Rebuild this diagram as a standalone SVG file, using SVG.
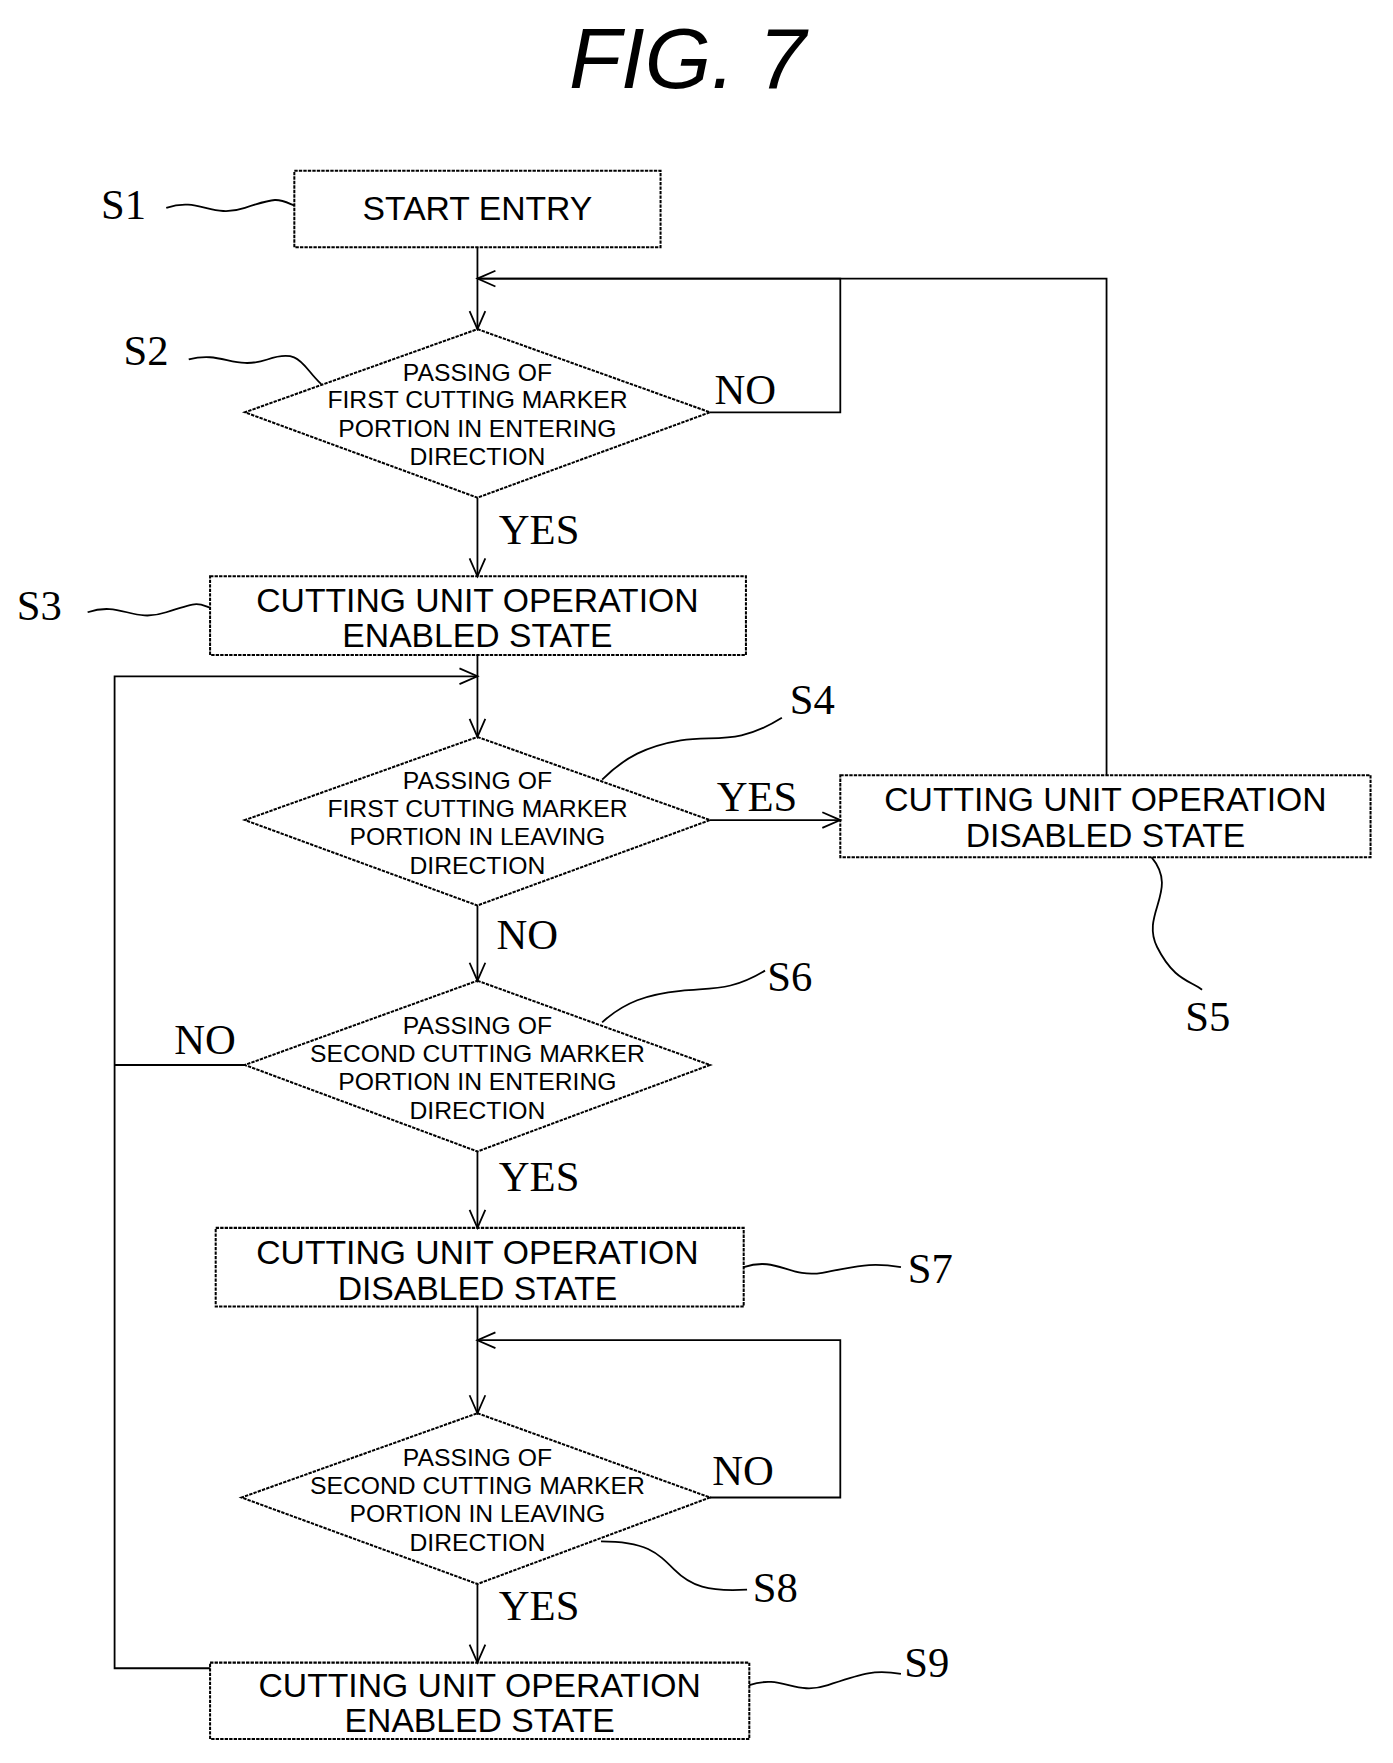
<svg xmlns="http://www.w3.org/2000/svg" width="1393" height="1763" viewBox="0 0 1393 1763">
<style>
.b{fill:none;stroke:#000;stroke-width:1.8;stroke-dasharray:3 1}
.l{fill:none;stroke:#000;stroke-width:1.6}
.t{font-family:"Liberation Sans",Arial,sans-serif;font-size:30px;text-anchor:middle}
.d{font-family:"Liberation Sans",Arial,sans-serif;font-size:22px;text-anchor:middle}
.s{font-family:"Liberation Serif","Times New Roman",serif;font-size:38px}
</style>
<defs><marker id="a" markerWidth="20" markerHeight="20" refX="18" refY="10" orient="auto" markerUnits="userSpaceOnUse"><path d="M2,3 L18,10 L2,17" fill="none" stroke="#000" stroke-width="1.6"/></marker></defs>
<rect width="1393" height="1763" fill="#fff"/>
<g transform="scale(1.1234)">
<text x="612" y="78" font-family="Liberation Sans,Arial,sans-serif" font-size="76" font-style="italic" text-anchor="middle">FIG. 7</text>
<g id="connectors">
<path class="l" d="M425,220 V293" marker-end="url(#a)"/>
<path class="l" d="M632,367 H748 V248 H425"/>
<path class="l" d="M985,690 V248 H748"/>
<path class="l" d="M748,248 H425" marker-end="url(#a)"/>
<path class="l" d="M425,443 V513" marker-end="url(#a)"/>
<path class="l" d="M425,583 V656" marker-end="url(#a)"/>
<path class="l" d="M187,1485 H102 V602 H425" marker-end="url(#a)"/>
<path class="l" d="M632,730 H748" marker-end="url(#a)"/>
<path class="l" d="M425,806 V873" marker-end="url(#a)"/>
<path class="l" d="M218,948 H102"/>
<path class="l" d="M425,1025 V1093" marker-end="url(#a)"/>
<path class="l" d="M425,1163 V1258" marker-end="url(#a)"/>
<path class="l" d="M632,1333 H748 V1193 H425" marker-end="url(#a)"/>
<path class="l" d="M425,1410 V1480" marker-end="url(#a)"/>
<text class="s" x="636" y="360">NO</text>
<text class="s" x="444" y="484">YES</text>
<text class="s" x="638" y="722">YES</text>
<text class="s" x="442" y="845">NO</text>
<text class="s" x="155" y="938">NO</text>
<text class="s" x="444" y="1060">YES</text>
<text class="s" x="634" y="1322">NO</text>
<text class="s" x="444" y="1442">YES</text>
</g>
<g id="S1"><rect class="b" x="262" y="152" width="326" height="68"/><text class="t" x="425" y="196">START ENTRY</text>
<text class="s" x="90" y="195">S1</text><path class="l" d="M148,185 c30,-10 40,10 70,0 s30,-8 44,-2"/></g>
<g id="S2"><polygon class="b" points="425,293 632,367 425,443 218,367"/>
<text class="d" x="425" y="339">PASSING OF</text><text class="d" x="425" y="363">FIRST CUTTING MARKER</text><text class="d" x="425" y="389">PORTION IN ENTERING</text><text class="d" x="425" y="414">DIRECTION</text>
<text class="s" x="110" y="325">S2</text><path class="l" d="M168,320 c30,-8 40,10 70,0 s30,5 48,22"/></g>
<g id="S3"><rect class="b" x="187" y="513" width="477" height="70"/><text class="t" x="425" y="545">CUTTING UNIT OPERATION</text><text class="t" x="425" y="576">ENABLED STATE</text>
<text class="s" x="15" y="552">S3</text><path class="l" d="M78,545 c30,-10 40,10 70,0 s28,-8 39,-4"/></g>
<g id="S4"><polygon class="b" points="425,656 632,730 425,806 218,730"/>
<text class="d" x="425" y="702">PASSING OF</text><text class="d" x="425" y="727">FIRST CUTTING MARKER</text><text class="d" x="425" y="752">PORTION IN LEAVING</text><text class="d" x="425" y="778">DIRECTION</text>
<text class="s" x="703" y="636">S4</text><path class="l" d="M536,694 c20,-20 40,-30 70,-35 s50,5 90,-20"/></g>
<g id="S5"><rect class="b" x="748" y="690" width="472" height="73"/><text class="t" x="984" y="722">CUTTING UNIT OPERATION</text><text class="t" x="984" y="754">DISABLED STATE</text>
<text class="s" x="1055" y="918">S5</text><path class="l" d="M1025,763 c25,30 -10,50 5,80 s30,30 40,38"/></g>
<g id="S6"><polygon class="b" points="425,873 632,948 425,1025 218,948"/>
<text class="d" x="425" y="920">PASSING OF</text><text class="d" x="425" y="945">SECOND CUTTING MARKER</text><text class="d" x="425" y="970">PORTION IN ENTERING</text><text class="d" x="425" y="996">DIRECTION</text>
<text class="s" x="683" y="882">S6</text><path class="l" d="M536,910 c20,-18 40,-25 70,-28 s45,0 75,-18"/></g>
<g id="S7"><rect class="b" x="192" y="1093" width="470" height="70"/><text class="t" x="425" y="1125">CUTTING UNIT OPERATION</text><text class="t" x="425" y="1157">DISABLED STATE</text>
<text class="s" x="808" y="1142">S7</text><path class="l" d="M662,1128 c30,-10 40,10 70,5 s40,-10 70,-5"/></g>
<g id="S8"><polygon class="b" points="425,1258 632,1333 425,1410 215,1333"/>
<text class="d" x="425" y="1305">PASSING OF</text><text class="d" x="425" y="1330">SECOND CUTTING MARKER</text><text class="d" x="425" y="1355">PORTION IN LEAVING</text><text class="d" x="425" y="1381">DIRECTION</text>
<text class="s" x="670" y="1426">S8</text><path class="l" d="M535,1372 c40,0 50,10 65,25 s30,20 65,18"/></g>
<g id="S9"><rect class="b" x="187" y="1480" width="480" height="68"/><text class="t" x="427" y="1511">CUTTING UNIT OPERATION</text><text class="t" x="427" y="1542">ENABLED STATE</text>
<text class="s" x="805" y="1493">S9</text><path class="l" d="M667,1500 c30,-10 40,10 70,0 s40,-14 65,-10"/></g>
</g>
</svg>
